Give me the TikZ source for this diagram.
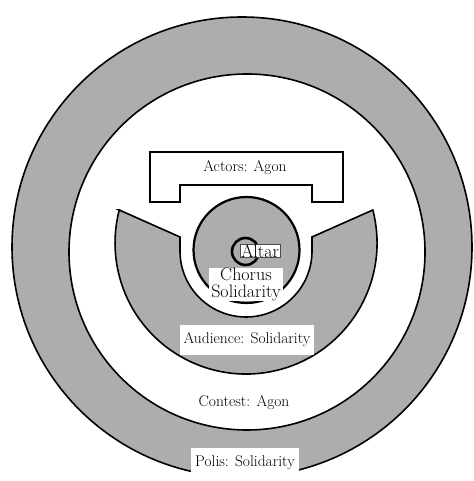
\documentclass[tikz,border=0pt]{standalone}
\usepackage{tikz}
\usetikzlibrary{positioning}
\usepackage{xcolor}

\begin{document}
\begin{tikzpicture}[x=1pt, y=1pt,
    every node/.style={font=\fontsize{15.5}{17}\selectfont},
    ring/.style={draw, line width=1.6pt},
    stipple/.style={fill=black!32},
    label box/.style={fill=white, inner xsep=4pt, inner ysep=2pt},
    big/.style={font=\fontsize{18}{16.5}\selectfont}]
    \useasboundingbox (0,0) rectangle (473,481);

    % Polis ring and contest ground
    \draw[ring, stipple] (242,234) circle (230);
    \draw[ring, fill=white] (247,229) circle (178);

    % Audience seating
    \draw[ring, stipple] (119.2,271) -- (180,244) -- (180,230)
        arc (180:360:66) -- (312,244) -- (372.8,271)
        arc (14.6:-194.6:131) -- cycle;

    % Chorus and altar
    \draw[stipple, line width=2.2pt] (246.5,231) circle (53);
    \draw[line width=2.6pt] (245.5,229.5) circle (13.5);

    % Stage building
    \draw[line width=1.1pt, fill=white] (150,329) -- (343,329) -- (343,279)
        -- (312,279) -- (312,296) -- (180,296) -- (180,279) -- (150,279) -- cycle;

    % Labels
    \node (actors) at (245,313) {Actors: Agon};
    \node[label box, big, draw=black!70, thin, inner xsep=1pt, inner ysep=0pt] (altar) at (260,230) {Altar};
    \node[label box, big, align=center, inner xsep=2pt, inner ysep=0pt] (chorus) at (246,196.5) {Chorus\\Solidarity};
    \node[label box, minimum height=30] (audience) at (247,141) {Audience: Solidarity};
    \node (contest) at (244,78) {Contest: Agon};
    \node[label box, minimum height=30] (polis) at (245,18) {Polis: Solidarity};
\end{tikzpicture}
\end{document}
